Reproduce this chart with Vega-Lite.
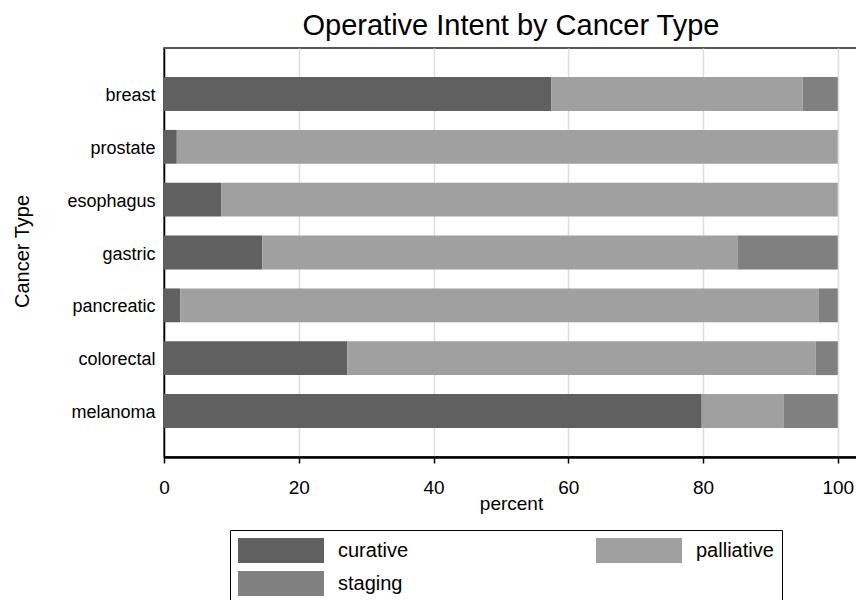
{
  "$schema": "https://vega.github.io/schema/vega-lite/v6.json",
  "width": 694,
  "height": 409,
  "autosize": "none",
  "padding": {"left": 164, "top": 48, "right": 0, "bottom": 143},
  "background": "white",
  "title": {"text": "Operative Intent by Cancer Type", "fontSize": 29, "font": "Liberation Sans", "fontWeight": "normal", "color": "black", "anchor": "middle", "offset": 7},
  "config": {"view": {"stroke": "#222", "strokeWidth": 1.5}, "font": "Liberation Sans"},
  "data": {"values": [
    {"cancer": "breast", "intent": "curative", "percent": 57.5},
    {"cancer": "breast", "intent": "palliative", "percent": 37.3},
    {"cancer": "breast", "intent": "staging", "percent": 5.2},
    {"cancer": "prostate", "intent": "curative", "percent": 1.9},
    {"cancer": "prostate", "intent": "palliative", "percent": 98.1},
    {"cancer": "prostate", "intent": "staging", "percent": 0},
    {"cancer": "esophagus", "intent": "curative", "percent": 8.5},
    {"cancer": "esophagus", "intent": "palliative", "percent": 91.5},
    {"cancer": "esophagus", "intent": "staging", "percent": 0},
    {"cancer": "gastric", "intent": "curative", "percent": 14.6},
    {"cancer": "gastric", "intent": "palliative", "percent": 70.5},
    {"cancer": "gastric", "intent": "staging", "percent": 14.9},
    {"cancer": "pancreatic", "intent": "curative", "percent": 2.4},
    {"cancer": "pancreatic", "intent": "palliative", "percent": 94.8},
    {"cancer": "pancreatic", "intent": "staging", "percent": 2.8},
    {"cancer": "colorectal", "intent": "curative", "percent": 27.2},
    {"cancer": "colorectal", "intent": "palliative", "percent": 69.5},
    {"cancer": "colorectal", "intent": "staging", "percent": 3.3},
    {"cancer": "melanoma", "intent": "curative", "percent": 79.8},
    {"cancer": "melanoma", "intent": "palliative", "percent": 12.2},
    {"cancer": "melanoma", "intent": "staging", "percent": 8.0}
  ]},
  "mark": {"type": "bar"},
  "encoding": {
    "y": {
      "field": "cancer", "type": "nominal",
      "sort": ["breast", "prostate", "esophagus", "gastric", "pancreatic", "colorectal", "melanoma"],
      "scale": {"paddingInner": 0.36, "paddingOuter": 0.55},
      "axis": {
        "title": "Cancer Type", "titleFontSize": 20, "titleFontWeight": "normal", "titleColor": "black",
        "titleAngle": -90, "titleX": -142, "titleY": 203, "titleAlign": "center", "titleBaseline": "middle",
        "labelFontSize": 18, "labelColor": "black", "labelPadding": 9, "labelOffset": 2, "ticks": false,
        "domainColor": "black", "domainWidth": 1.5, "grid": false
      }
    },
    "x": {
      "field": "percent", "type": "quantitative", "stack": "zero",
      "scale": {"domain": [0, 103], "nice": false},
      "axis": {
        "values": [0, 20, 40, 60, 80, 100], "title": "percent", "titleFontSize": 19, "titleFontWeight": "normal",
        "titleColor": "black", "titleY": 46, "titleBaseline": "middle",
        "labelFontSize": 19, "labelColor": "black", "labelPadding": 15, "labelFlush": false,
        "tickSize": 6, "tickColor": "black", "tickWidth": 1.5,
        "domainColor": "black", "domainWidth": 2.5,
        "grid": true, "gridColor": "#dddddd", "gridWidth": 1.5
      }
    },
    "color": {
      "field": "intent", "type": "nominal",
      "scale": {"domain": ["curative", "staging", "palliative"], "range": ["#606060", "#808080", "#a0a0a0"]},
      "legend": {
        "orient": "none", "legendX": 66, "legendY": 482, "title": null,
        "columns": 2, "columnPadding": 187, "rowPadding": 8,
        "symbolType": "M-1,-1h6.88v2h-6.88z", "symbolSize": 625, "symbolStrokeWidth": 0,
        "labelFontSize": 20, "labelColor": "black", "labelOffset": 75,
        "strokeColor": "black", "fillColor": "white", "padding": 8
      }
    }
  }
}
